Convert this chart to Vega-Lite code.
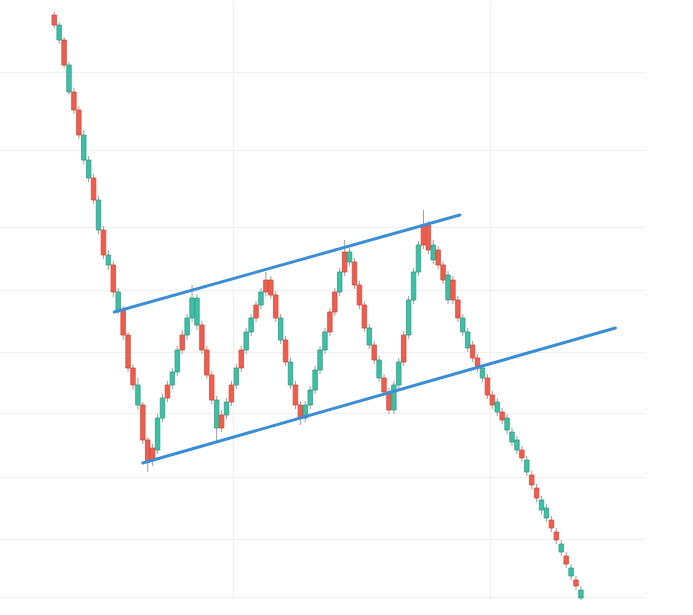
{
  "$schema": "https://vega.github.io/schema/vega-lite/v6.json",
  "width": 645,
  "height": 600,
  "padding": 0,
  "autosize": {"type": "none"},
  "background": "#ffffff",
  "config": {"view": {"stroke": null}},
  "datasets": {
    "candles": [
      {"d":10,"o":585,"h":588,"l":572,"c":575},
      {"d":11,"o":560,"h":578,"l":556,"c":575},
      {"d":12,"o":560,"h":563,"l":532,"c":535},
      {"d":13,"o":508,"h":538,"l":505,"c":535},
      {"d":14,"o":508,"h":512,"l":486,"c":490},
      {"d":15,"o":490,"h":494,"l":461,"c":465},
      {"d":16,"o":440,"h":470,"l":436,"c":465},
      {"d":17,"o":422,"h":444,"l":418,"c":440},
      {"d":18,"o":422,"h":426,"l":396,"c":400},
      {"d":19,"o":370,"h":404,"l":366,"c":400},
      {"d":20,"o":370,"h":374,"l":341,"c":345},
      {"d":21,"o":335,"h":350,"l":330,"c":345},
      {"d":22,"o":335,"h":339,"l":303,"c":308},
      {"d":23,"o":290,"h":312,"l":286,"c":308},
      {"d":24,"o":290,"h":294,"l":260,"c":265},
      {"d":25,"o":265,"h":268,"l":228,"c":232},
      {"d":26,"o":232,"h":236,"l":210,"c":215},
      {"d":27,"o":195,"h":222,"l":190,"c":215},
      {"d":28,"o":195,"h":198,"l":156,"c":160},
      {"d":29,"o":160,"h":163,"l":128,"c":138},
      {"d":30,"o":152,"h":156,"l":134,"c":140},
      {"d":31,"o":150,"h":186,"l":146,"c":182},
      {"d":32,"o":182,"h":206,"l":178,"c":202},
      {"d":33,"o":215,"h":219,"l":198,"c":202},
      {"d":34,"o":215,"h":232,"l":211,"c":228},
      {"d":35,"o":228,"h":254,"l":224,"c":250},
      {"d":36,"o":265,"h":270,"l":246,"c":250},
      {"d":37,"o":265,"h":286,"l":260,"c":282},
      {"d":38,"o":282,"h":315,"l":278,"c":302},
      {"d":39,"o":275,"h":306,"l":270,"c":302},
      {"d":40,"o":275,"h":279,"l":246,"c":250},
      {"d":41,"o":250,"h":254,"l":221,"c":225},
      {"d":42,"o":225,"h":229,"l":196,"c":200},
      {"d":43,"o":172,"h":204,"l":158,"c":200},
      {"d":44,"o":185,"h":190,"l":168,"c":172},
      {"d":45,"o":185,"h":202,"l":181,"c":198},
      {"d":46,"o":215,"h":219,"l":194,"c":198},
      {"d":47,"o":215,"h":236,"l":211,"c":232},
      {"d":48,"o":250,"h":254,"l":228,"c":232},
      {"d":49,"o":250,"h":272,"l":246,"c":268},
      {"d":50,"o":268,"h":286,"l":264,"c":282},
      {"d":51,"o":295,"h":299,"l":278,"c":282},
      {"d":52,"o":295,"h":312,"l":291,"c":308},
      {"d":53,"o":320,"h":328,"l":304,"c":308},
      {"d":54,"o":320,"h":324,"l":301,"c":305},
      {"d":55,"o":305,"h":309,"l":278,"c":282},
      {"d":56,"o":260,"h":286,"l":256,"c":282},
      {"d":57,"o":260,"h":264,"l":234,"c":238},
      {"d":58,"o":215,"h":242,"l":211,"c":238},
      {"d":59,"o":215,"h":219,"l":191,"c":195},
      {"d":60,"o":195,"h":199,"l":175,"c":182},
      {"d":61,"o":182,"h":199,"l":178,"c":195},
      {"d":62,"o":195,"h":214,"l":191,"c":210},
      {"d":63,"o":210,"h":234,"l":206,"c":230},
      {"d":64,"o":230,"h":254,"l":226,"c":250},
      {"d":65,"o":250,"h":272,"l":246,"c":268},
      {"d":66,"o":288,"h":292,"l":264,"c":268},
      {"d":67,"o":308,"h":312,"l":284,"c":288},
      {"d":68,"o":308,"h":332,"l":304,"c":328},
      {"d":69,"o":348,"h":360,"l":324,"c":328},
      {"d":70,"o":338,"h":352,"l":334,"c":348},
      {"d":71,"o":338,"h":342,"l":311,"c":315},
      {"d":72,"o":315,"h":319,"l":291,"c":295},
      {"d":73,"o":295,"h":299,"l":268,"c":272},
      {"d":74,"o":255,"h":276,"l":251,"c":272},
      {"d":75,"o":255,"h":259,"l":236,"c":240},
      {"d":76,"o":222,"h":244,"l":218,"c":240},
      {"d":77,"o":222,"h":226,"l":204,"c":208},
      {"d":78,"o":208,"h":212,"l":186,"c":190},
      {"d":79,"o":190,"h":219,"l":186,"c":215},
      {"d":80,"o":215,"h":242,"l":211,"c":238},
      {"d":81,"o":265,"h":269,"l":234,"c":238},
      {"d":82,"o":265,"h":304,"l":261,"c":300},
      {"d":83,"o":300,"h":332,"l":296,"c":328},
      {"d":84,"o":328,"h":359,"l":324,"c":355},
      {"d":85,"o":375,"h":390,"l":351,"c":355},
      {"d":86,"o":375,"h":379,"l":346,"c":350},
      {"d":87,"o":340,"h":360,"l":336,"c":355},
      {"d":88,"o":350,"h":354,"l":331,"c":335},
      {"d":89,"o":335,"h":339,"l":316,"c":320},
      {"d":90,"o":300,"h":329,"l":296,"c":325},
      {"d":91,"o":320,"h":324,"l":296,"c":300},
      {"d":92,"o":300,"h":304,"l":278,"c":282},
      {"d":93,"o":268,"h":286,"l":264,"c":282},
      {"d":94,"o":252,"h":272,"l":248,"c":268},
      {"d":95,"o":255,"h":259,"l":238,"c":242},
      {"d":96,"o":242,"h":246,"l":228,"c":232},
      {"d":97,"o":222,"h":236,"l":218,"c":232},
      {"d":98,"o":222,"h":226,"l":201,"c":205},
      {"d":99,"o":205,"h":209,"l":191,"c":195},
      {"d":100,"o":188,"h":202,"l":184,"c":198},
      {"d":101,"o":188,"h":192,"l":176,"c":180},
      {"d":102,"o":170,"h":186,"l":166,"c":182},
      {"d":103,"o":158,"h":172,"l":154,"c":168},
      {"d":104,"o":150,"h":164,"l":146,"c":160},
      {"d":105,"o":150,"h":154,"l":138,"c":142},
      {"d":106,"o":128,"h":144,"l":124,"c":140},
      {"d":107,"o":125,"h":129,"l":111,"c":115},
      {"d":108,"o":112,"h":116,"l":98,"c":102},
      {"d":109,"o":90,"h":104,"l":86,"c":100},
      {"d":110,"o":82,"h":96,"l":78,"c":92},
      {"d":111,"o":80,"h":84,"l":68,"c":72},
      {"d":112,"o":68,"h":72,"l":56,"c":60},
      {"d":113,"o":48,"h":60,"l":44,"c":56},
      {"d":114,"o":44,"h":48,"l":32,"c":36},
      {"d":115,"o":24,"h":36,"l":20,"c":32},
      {"d":116,"o":20,"h":24,"l":10,"c":14},
      {"d":117,"o":2,"h":14,"l":0,"c":10}
    ],
    "channel": [
      {"line":"upper","d":22.2,"p":288},
      {"line":"upper","d":92.4,"p":385},
      {"line":"lower","d":28,"p":137},
      {"line":"lower","d":124,"p":272}
    ]
  },
  "layer": [
    {
      "data": {"name": "candles"},
      "mark": {"type": "rule", "color": "#9c9c9c", "strokeWidth": 1},
      "encoding": {
        "x": {
          "field": "d", "type": "quantitative", "title": null,
          "scale": {"domain": [0, 129], "nice": false, "zero": false},
          "axis": {"values": [46.4, 98.6], "labels": false, "ticks": false, "domain": false, "grid": true, "gridColor": "#efefef", "gridWidth": 1}
        },
        "y": {
          "field": "l", "type": "quantitative", "title": null,
          "scale": {"domain": [0, 600], "nice": false, "zero": false},
          "axis": {"values": [3, 61, 123, 187, 248, 310, 373, 450, 528], "labels": false, "ticks": false, "domain": false, "grid": true, "gridColor": "#efefef", "gridWidth": 1}
        },
        "y2": {"field": "h"}
      }
    },
    {
      "data": {"name": "candles"},
      "mark": {"type": "bar", "size": 4.5, "strokeWidth": 0.8},
      "encoding": {
        "x": {"field": "d", "type": "quantitative"},
        "y": {"field": "o", "type": "quantitative"},
        "y2": {"field": "c"},
        "color": {
          "condition": {"test": "datum.c >= datum.o", "value": "#3fbfa3"},
          "value": "#ec5f4f"
        },
        "stroke": {
          "condition": {"test": "datum.c >= datum.o", "value": "#2f9e86"},
          "value": "#d9473a"
        }
      }
    },
    {
      "data": {"name": "channel"},
      "mark": {"type": "line", "color": "#3b8dd6", "strokeWidth": 3, "strokeCap": "round"},
      "encoding": {
        "x": {"field": "d", "type": "quantitative"},
        "y": {"field": "p", "type": "quantitative"},
        "detail": {"field": "line"}
      }
    }
  ]
}
